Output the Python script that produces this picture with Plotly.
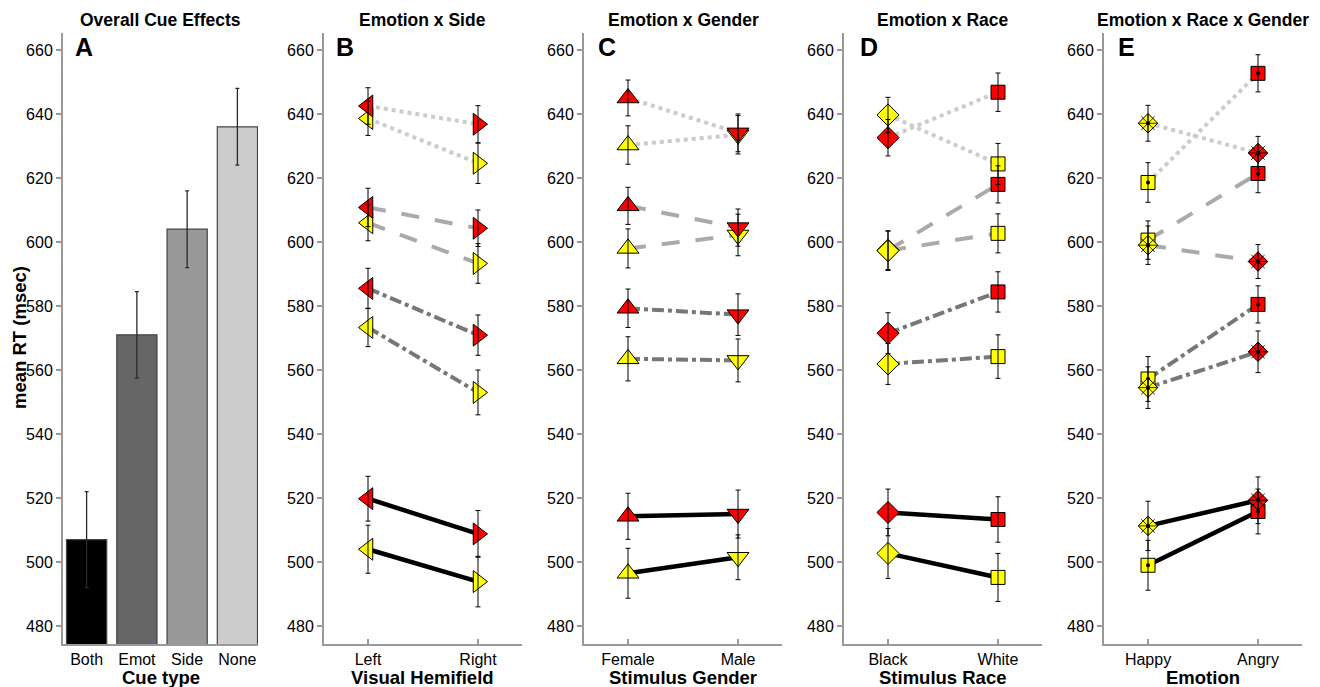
import plotly.graph_objects as go

# ---------------- data ----------------
cue_types = ["Both", "Emot", "Side", "None"]
overall_rt = [507, 571, 604, 636]
overall_se = [15, 13.5, 12, 12]

# order of cue rows in panels B-E: Both, Emot, Side, None
side_labels = ["Left", "Right"]
side_happy = [[504.0, 493.9], [573.3, 553.0], [606.0, 593.3], [638.6, 624.6]]
side_angry = [[519.8, 508.8], [585.5, 570.9], [610.8, 604.3], [642.5, 636.8]]
side_happy_se = [[7.5, 7.9], [6.0, 7.0], [5.6, 6.2], [5.3, 6.3]]
side_angry_se = [[7.0, 7.3], [6.3, 6.3], [6.0, 5.7], [5.7, 5.8]]

gender_labels = ["Female", "Male"]
gender_happy = [[496.5, 501.5], [563.5, 563.0], [598.0, 602.2], [630.3, 633.5]]
gender_angry = [[514.3, 515.0], [579.3, 577.3], [611.3, 604.5], [645.0, 634.1]]
gender_happy_se = [[7.8, 7.0], [6.9, 6.7], [6.1, 6.5], [6.0, 6.0]]
gender_angry_se = [[7.2, 7.5], [6.0, 6.5], [5.8, 5.8], [5.6, 5.9]]

race_labels = ["Black", "White"]
race_happy = [[502.7, 495.2], [561.9, 564.2], [597.3, 602.7], [639.7, 624.4]]
race_angry = [[515.5, 513.3], [571.5, 584.4], [597.4, 618.0], [632.6, 646.8]]
race_happy_se = [[7.8, 7.5], [6.4, 6.8], [6.2, 6.1], [5.5, 6.4]]
race_angry_se = [[7.3, 7.1], [6.4, 6.3], [6.0, 5.8], [5.7, 6.0]]

emotion_labels = ["Happy", "Angry"]
erg_square = [[499.0, 515.8], [557.2, 580.5], [600.6, 621.4], [618.6, 652.7]]
erg_diamond = [[511.3, 519.3], [554.5, 565.7], [599.0, 593.9], [637.1, 627.8]]
erg_square_se = [[7.8, 7.0], [7.0, 5.8], [6.0, 6.0], [6.2, 5.8]]
erg_diamond_se = [[7.7, 7.3], [6.5, 6.5], [6.0, 5.3], [5.6, 5.2]]

y_ticks = [480, 500, 520, 540, 560, 580, 600, 620, 640, 660]

# ---------------- styles ----------------
OFF = 8  # default page body margin
W, H = 1320 - OFF, 687 - OFF
FONT = "Liberation Sans, Arial, Helvetica, sans-serif"
YELLOW = "#ffff00"
RED = "#ff0000"
bar_colors = ["#000000", "#666666", "#999999", "#cccccc"]
line_styles = [
    dict(color="#000000", width=4.5, dash="solid"),
    dict(color="#777777", width=4, dash="12px,4px,4px,4px"),
    dict(color="#aaaaaa", width=4, dash="18px,16px"),
    dict(color="#cccccc", width=4, dash="4px,4px"),
]
AX = "#999999"


def fx(p):
    return (p - OFF) / W


def fy(p):
    return 1 - (p - OFF) / H


px_dom = [(63, 258), (324, 522), (584, 782), (844, 1042), (1104, 1302)]
ydom = [fy(644), fy(33)]
yrange = [474.4, 665.3]

fig = go.Figure()

# ---------------- panel A ----------------
fig.add_trace(go.Bar(
    x=list(range(len(cue_types))), y=overall_rt, width=0.8,
    marker=dict(color=bar_colors, line=dict(color="#444444", width=1.2)),
    error_y=dict(type="data", array=overall_se, color="#2a2a2a", thickness=1.3, width=2),
    xaxis="x", yaxis="y", showlegend=False,
))


def err_trace(xs, ys, es, ax):
    return go.Scatter(
        x=xs, y=ys, mode="markers",
        marker=dict(size=2, color="rgba(0,0,0,0)"),
        error_y=dict(type="data", array=es, color="black", thickness=1, width=2.5),
        xaxis="x" + ax, yaxis="y" + ax, showlegend=False, hoverinfo="skip",
    )


def mk(ax, xs, ys, symbol, size, color, lw=1.0, lcol="black"):
    return go.Scatter(
        x=xs, y=ys, mode="markers",
        marker=dict(symbol=symbol, size=size, color=color, opacity=1,
                    line=dict(color=lcol, width=lw)),
        xaxis="x" + ax, yaxis="y" + ax, showlegend=False)


def lines(ax, xs, ys, i):
    return go.Scatter(x=xs, y=ys, mode="lines", line=line_styles[i],
                      xaxis="x" + ax, yaxis="y" + ax, showlegend=False)


def pair_panel(ax, happy, angry, happy_se, angry_se, symbols, sizes, red_on_top=True):
    xs = [0, 1]
    for i in range(4):
        fig.add_trace(lines(ax, xs, happy[i], i))
        fig.add_trace(lines(ax, xs, angry[i], i))
    for i in range(4):
        order = [(happy[i], YELLOW), (angry[i], RED)]
        if not red_on_top:
            order = order[::-1]
        for vals, col in order:
            fig.add_trace(mk(ax, xs, vals, symbols, sizes, col))
    for i in range(4):
        fig.add_trace(err_trace(xs, happy[i], happy_se[i], ax))
        fig.add_trace(err_trace(xs, angry[i], angry_se[i], ax))


pair_panel("2", side_happy, side_angry, side_happy_se, side_angry_se,
           ["triangle-left", "triangle-right"], 19)
pair_panel("3", gender_happy, gender_angry, gender_happy_se, gender_angry_se,
           ["triangle-up", "triangle-down"], 19)
pair_panel("4", race_happy, race_angry, race_happy_se, race_angry_se,
           ["diamond", "square"], [17, 14], red_on_top=False)


# panel E
def erg_panel(ax):
    xs = [0, 1]
    cols = [YELLOW, RED]
    for i in range(4):
        fig.add_trace(lines(ax, xs, erg_square[i], i))
        fig.add_trace(lines(ax, xs, erg_diamond[i], i))
    for i in range(4):
        fig.add_trace(mk(ax, xs, erg_square[i], "square", 14, cols))
        fig.add_trace(mk(ax, xs, erg_square[i], "circle", 4, "black", lw=0))
    for i in range(4):
        fig.add_trace(mk(ax, xs, erg_diamond[i], "diamond", 15, cols))
        fig.add_trace(mk(ax, xs, erg_diamond[i], "asterisk-open", 16, "black", lw=0.8))
        fig.add_trace(mk(ax, xs, erg_diamond[i], "circle", 4, "black", lw=0))
    for i in range(4):
        fig.add_trace(err_trace(xs, erg_square[i], erg_square_se[i], ax))
        fig.add_trace(err_trace(xs, erg_diamond[i], erg_diamond_se[i], ax))


erg_panel("5")

# ---------------- layout ----------------
titles = ["Overall Cue Effects", "Emotion x Side", "Emotion x Gender",
          "Emotion x Race", "Emotion x Race x Gender"]
letters = ["A", "B", "C", "D", "E"]
xtitles = ["Cue type", "Visual Hemifield", "Stimulus Gender", "Stimulus Race", "Emotion"]
xticktexts = [cue_types, side_labels, gender_labels, race_labels, emotion_labels]
letter_off = [10, 10, 12, 14, 12]

layout = dict(
    width=W, height=H, margin=dict(l=0, r=0, t=0, b=0),
    paper_bgcolor="white", plot_bgcolor="white",
    font=dict(family=FONT, color="black"),
    showlegend=False, annotations=[],
)

for k in range(5):
    sfx = "" if k == 0 else str(k + 1)
    l, r = px_dom[k]
    if k == 0:
        xr = [-0.47, 3.41]
        tv = list(range(len(cue_types)))
        tks = ""
    else:
        xr = [-0.4, 1.4]
        tv = [0, 1]
        tks = "inside"
    layout["xaxis" + sfx] = dict(
        domain=[fx(l), fx(r)], range=xr, anchor="y" + sfx,
        tickvals=tv, ticktext=xticktexts[k], ticks=tks, ticklen=5, tickcolor=AX, tickwidth=1.5,
        showline=True, linecolor=AX, linewidth=2, showgrid=False, zeroline=False,
        tickfont=dict(size=16, family=FONT, color="black"), fixedrange=True,
    )
    layout["yaxis" + sfx] = dict(
        domain=ydom, range=yrange, anchor="x" + sfx,
        tickvals=y_ticks, ticks="outside", ticklen=5, tickcolor=AX, tickwidth=1.5,
        showline=True, linecolor=AX, linewidth=2, showgrid=False, zeroline=False,
        tickfont=dict(size=16, family=FONT, color="black"), fixedrange=True,
    )
    cx = fx((l + r) / 2)
    layout["annotations"].append(dict(
        text="<b>%s</b>" % titles[k], x=cx, y=fy(20), xref="paper", yref="paper",
        xanchor="center", yanchor="middle", showarrow=False,
        font=dict(size=17.5, family=FONT, color="black")))
    layout["annotations"].append(dict(
        text="<b>%s</b>" % letters[k], x=fx(l + letter_off[k]), y=fy(47),
        xref="paper", yref="paper", xanchor="left", yanchor="middle", showarrow=False,
        font=dict(size=25, family=FONT, color="black")))
    layout["annotations"].append(dict(
        text="<b>%s</b>" % xtitles[k], x=cx, y=fy(677), xref="paper", yref="paper",
        xanchor="center", yanchor="middle", showarrow=False,
        font=dict(size=18.5, family=FONT, color="black")))

layout["annotations"].append(dict(
    text="<b>mean RT (msec)</b>", x=fx(19), y=fy(338), xref="paper", yref="paper",
    xanchor="center", yanchor="middle", textangle=-90, showarrow=False,
    font=dict(size=18.5, family=FONT, color="black")))

fig.update_layout(**layout)
fig.write_html("out.html")
